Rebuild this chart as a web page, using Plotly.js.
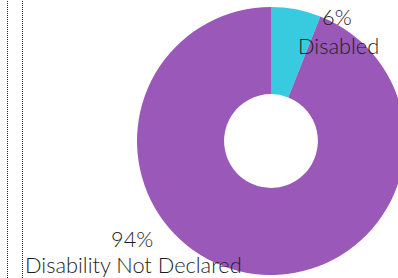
<!DOCTYPE html>
<html><head><meta charset="utf-8">
<script src="https://cdn.plot.ly/plotly-3.0.1.min.js"></script>
<style>html,body{margin:0;padding:0;overflow:hidden;background:#fff}#chart{width:410px;height:278px}</style>
</head><body><div id="chart"></div>
<script>
var categories = ["Disabled", "Disability Not Declared"];
var values = [6, 94];
var colors = ["#38CBE0", "#9A59B9"];

var total = values.reduce(function(a,b){return a+b;},0);
var pct = values.map(function(v){return Math.round(v/total*100)+"%";});
var W = 410, H = 278;
var font = {family: "Lato, 'DejaVu Sans', sans-serif", size: 21.8, weight: 300, color: "#1e1e1e"};

var data = [{
  type: "pie",
  labels: categories,
  values: values,
  marker: {colors: colors, line: {width: 0}},
  hole: 0.35,
  sort: false,
  direction: "clockwise",
  rotation: 0,
  textinfo: "none",
  hoverinfo: "label+percent",
  domain: {x: [137/W, 405/W], y: [3/H, 271/H]}
}];

function ann(text, x, y) {
  return {text: text, x: x/W, y: 1 - y/H, xref: "paper", yref: "paper",
          showarrow: false, xanchor: "center", yanchor: "middle", borderpad: 0, font: font};
}

var layout = {
  width: W, height: H,
  margin: {l: 0, r: 0, t: 0, b: 0},
  showlegend: false,
  paper_bgcolor: "#fff",
  annotations: [
    ann(pct[0], 337, 17),
    ann(categories[0], 338, 45),
    ann(pct[1], 132, 238),
    ann(categories[1], 133, 264.5)
  ],
  shapes: [
    {type: "line", xref: "paper", yref: "paper", x0: 7.5/W, x1: 7.5/W, y0: 0, y1: 1,
     line: {color: "#222", width: 1, dash: "1px,1px"}},
    {type: "line", xref: "paper", yref: "paper", x0: 22.5/W, x1: 22.5/W, y0: 0, y1: 1,
     line: {color: "#222", width: 1, dash: "1px,1px"}}
  ]
};

Plotly.newPlot("chart", data, layout, {displayModeBar: false, staticPlot: true});
</script></body></html>
